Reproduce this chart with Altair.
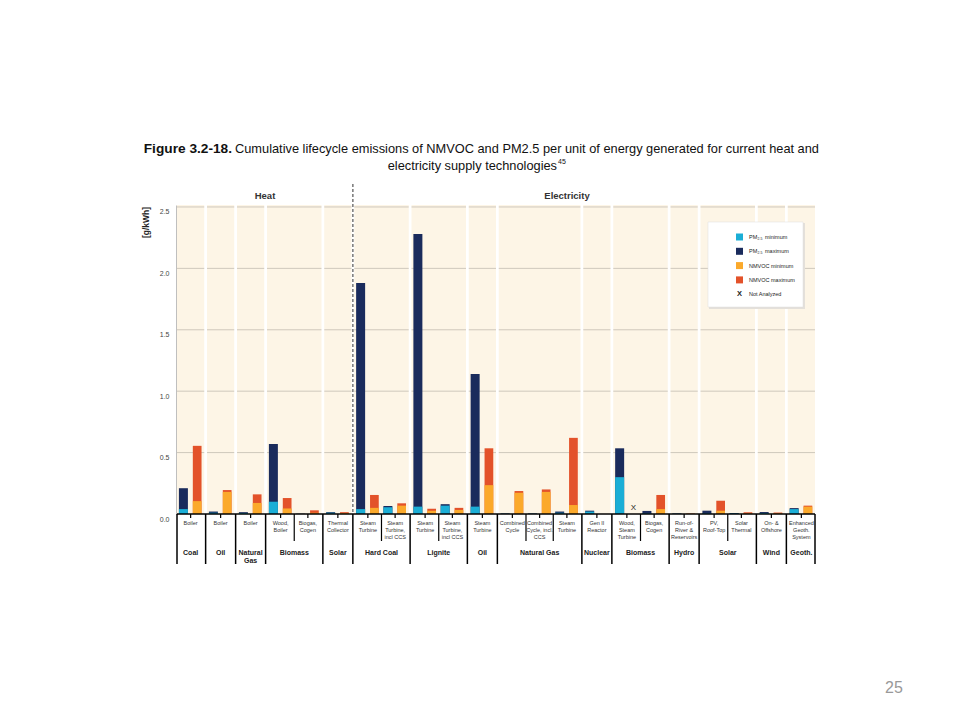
import altair as alt
import pandas as pd

# ---------------- data ----------------
groups = ["Coal", "Oil", "Natural\nGas", "Biomass", "Solar",
          "Hard Coal", "Lignite", "Oil", "Natural Gas", "Nuclear",
          "Biomass", "Hydro", "Solar", "Wind", "Geoth."]
sectors = ["Heat", "Electricity"]
tech_group = [0, 1, 2, 3, 3, 4, 5, 5, 6, 6, 7, 8, 8, 8, 9, 10, 10, 11, 12, 12, 13, 14]
tech_labels = ["Boiler", "Boiler", "Boiler", "Wood,\nBoiler", "Biogas,\nCogen", "Thermal\nCollector",
               "Steam\nTurbine", "Steam\nTurbine,\nincl CCS", "Steam\nTurbine", "Steam\nTurbine,\nincl CCS",
               "Steam\nTurbine", "Combined\nCycle", "Combined\nCycle, incl.\nCCS", "Steam\nTurbine",
               "Gen II\nReactor", "Wood,\nSteam\nTurbine", "Biogas,\nCogen", "Run-of-\nRiver &\nReservoirs",
               "PV,\nRoof-Top", "Solar\nThermal", "On- &\nOffshore", "Enhanced\nGeoth.\nSystem"]
pm_min = [0.04, 0.01, 0.008, 0.10, 0.0, 0.01, 0.04, 0.055, 0.06, 0.068, 0.06, 0.002, 0.002, 0.01,
          0.02, 0.30, 0.005, 0.002, 0.005, 0.005, 0.008, 0.04]
pm_max = [0.21, 0.02, 0.015, 0.57, 0.003, 0.015, 1.88, 0.065, 2.28, 0.08, 1.14, 0.004, 0.004, 0.02,
          0.027, 0.535, 0.025, 0.004, 0.027, 0.008, 0.016, 0.048]
nmvoc_min = [0.105, 0.18, 0.09, 0.045, 0.01, 0.008, 0.05, 0.068, 0.027, 0.033, 0.235, 0.173, 0.18, 0.073,
             0.0, None, 0.04, 0.002, 0.027, 0.005, 0.005, 0.06]
nmvoc_max = [0.555, 0.195, 0.16, 0.13, 0.03, 0.015, 0.155, 0.087, 0.043, 0.05, 0.535, 0.187, 0.2, 0.62,
             0.0, None, 0.155, 0.003, 0.108, 0.014, 0.012, 0.068]
series_keys = ["PM max", "PM min", "NMVOC max", "NMVOC min"]
series_colors = ["#1A2B5C", "#1BAED6", "#E3522A", "#FBA92B"]
legend_labels = ["minimum", "maximum", "NMVOC minimum", "NMVOC maximum", "Not Analyzed"]
y_ticks = [0.0, 0.5, 1.0, 1.5, 2.0, 2.5]

# ---------------- layout ----------------
PLOT_W, PLOT_H = 638, 309
GAP = 0.1
FONT = "Liberation Sans, Arial, sans-serif"
BG = "#FDF5E6"

starts = [i + GAP * g for i, g in enumerate(tech_group)]
XMAX = len(tech_group) + GAP * (len(groups) - 1)
one = pd.DataFrame({"a": [0]})

XS = alt.Scale(domain=[0, XMAX], nice=False, zero=False)
YS = alt.Scale(domain=[0, 2.516], nice=False, zero=True)
YAX = alt.Axis(values=y_ticks, format=".1f", title=None, grid=False, ticks=False,
               domain=True, domainColor="black", domainWidth=1.5,
               labelFont=FONT, labelFontSize=7, labelColor="#444",
               labelPadding=8, labelBaseline="top", labelOffset=1)


def X(f):
    return alt.X(f, scale=XS, axis=None)


def Y(f):
    return alt.Y(f, scale=YS, axis=YAX)


rows = []
for i, s in enumerate(starts):
    rows.append(dict(x=s + 0.07, x2=s + 0.40, v=pm_max[i], k="PM max", z=0))
    rows.append(dict(x=s + 0.07, x2=s + 0.40, v=pm_min[i], k="PM min", z=0))
    if nmvoc_max[i] is not None:
        rows.append(dict(x=s + 0.58, x2=s + 0.90, v=nmvoc_max[i], k="NMVOC max", z=0))
        rows.append(dict(x=s + 0.58, x2=s + 0.90, v=nmvoc_min[i], k="NMVOC min", z=0))
bars = pd.DataFrame(rows)
na = pd.DataFrame([dict(x=starts[i] + 0.74, v=0.0, t="X") for i in range(len(starts)) if nmvoc_max[i] is None])

color = alt.Color("k:N", scale=alt.Scale(domain=series_keys, range=series_colors), legend=None)

# group geometry
first = {}
last = {}
for i, g in enumerate(tech_group):
    first.setdefault(g, i)
    last[g] = i
gap_rows = []
group_bounds = [0.0]
for g in range(len(groups) - 1):
    a = starts[last[g]] + 1
    b = starts[first[g + 1]]
    gap_rows.append(dict(x=a, x2=b))
    group_bounds.append((a + b) / 2)
group_bounds.append(XMAX)
gaps = pd.DataFrame(gap_rows)
gb = pd.DataFrame({"x": group_bounds})
inner = pd.DataFrame({"x": [starts[i] for i in range(1, len(starts)) if tech_group[i] == tech_group[i - 1]]})
centers = pd.DataFrame({"x": [s + 0.5 for s in starts], "t": tech_labels})
gcent = pd.DataFrame({"x": [(starts[first[g]] + starts[last[g]] + 1) / 2 for g in range(len(groups))],
                      "t": groups})
sector_split = pd.DataFrame({"x": [group_bounds[5]]})
grid = pd.DataFrame({"g": y_ticks[1:]})

layers = []
# background
layers.append(alt.Chart(one).mark_rect(color=BG).encode(
    x=alt.value(0), x2=alt.value(PLOT_W), y=alt.value(0), y2=alt.value(PLOT_H)))
# gridlines
layers.append(alt.Chart(grid).mark_rule(color="#CFC8BC", strokeWidth=1).encode(
    y=Y("g:Q"), x=alt.value(0), x2=alt.value(PLOT_W)))
# white gaps between groups
layers.append(alt.Chart(gaps).mark_rect(color="white").encode(
    x=X("x:Q"), x2="x2:Q", y=alt.value(-3), y2=alt.value(PLOT_H)))
# dashed heat/electricity split
layers.append(alt.Chart(sector_split).mark_rule(color="#777", strokeWidth=1.5, strokeDash=[3, 2]).encode(
    x=X("x:Q"), y=alt.value(-21), y2=alt.value(PLOT_H)))
# bars: max first, then min on top
for keys in (["PM max", "NMVOC max"], ["PM min", "NMVOC min"]):
    layers.append(alt.Chart(bars[bars.k.isin(keys)]).mark_rect().encode(
        x=X("x:Q"), x2="x2:Q", y=Y("v:Q"), y2="z:Q", color=color))
# not analyzed marker
layers.append(alt.Chart(na).mark_text(font=FONT, fontSize=8, color="#222", baseline="bottom", dy=-2).encode(
    x=X("x:Q"), y=Y("v:Q"), text="t:N"))
# x axis line, ticks, separators
layers.append(alt.Chart(one).mark_rule(color="black", strokeWidth=1.5).encode(
    x=alt.value(0), x2=alt.value(PLOT_W), y=alt.value(PLOT_H)))
layers.append(alt.Chart(centers).mark_rule(color="black", strokeWidth=1.2).encode(
    x=X("x:Q"), y=alt.value(PLOT_H), y2=alt.value(PLOT_H + 4)))
layers.append(alt.Chart(gb).mark_rule(color="black", strokeWidth=1.5).encode(
    x=X("x:Q"), y=alt.value(PLOT_H), y2=alt.value(PLOT_H + 50)))
layers.append(alt.Chart(inner).mark_rule(color="black", strokeWidth=1.2).encode(
    x=X("x:Q"), y=alt.value(PLOT_H), y2=alt.value(PLOT_H + 27)))
# labels
layers.append(alt.Chart(centers).mark_text(font=FONT, fontSize=5.5, color="#333", baseline="top",
                                           lineBreak="\n", lineHeight=7).encode(
    x=X("x:Q"), y=alt.value(PLOT_H + 7), text="t:N"))
layers.append(alt.Chart(gcent).mark_text(font=FONT, fontSize=7, fontWeight="bold", color="#222",
                                         baseline="top", lineBreak="\n", lineHeight=8).encode(
    x=X("x:Q"), y=alt.value(PLOT_H + 35), text="t:N"))


def txt(text, x, y, size, weight="normal", align="center", baseline="middle", color="#222", angle=0):
    return alt.Chart(one).mark_text(text=text, x=x, y=y, fontSize=size, fontWeight=weight, align=align,
                                    baseline=baseline, color=color, font=FONT, angle=angle)


# sector headers
layers.append(txt(sectors[0], 88, -9, 9.5, "bold", color="#333"))
layers.append(txt(sectors[1], 390, -9, 9.5, "bold", color="#333"))
# y title
layers.append(txt("[g/kWh]", -31, 17.5, 8.5, "bold", angle=270))
# figure title
layers.append(txt("Figure 3.2-18.", 55, -56, 13.7, "bold", align="right", color="#111"))
layers.append(txt("Cumulative lifecycle emissions of NMVOC and PM2.5 per unit of energy generated for current heat and",
                  58, -56, 12.8, align="left", color="#111"))
layers.append(txt("electricity supply technologies", 380, -39, 12.8, align="right", color="#111"))
layers.append(txt("45", 381, -43, 7, align="left", color="#111"))
# page number
layers.append(txt("25", 717, 483, 16, color="#999"))

# legend
LX, LY = 531, 17
layers.append(alt.Chart(one).mark_rect(color="#E4E0DA").encode(
    x=alt.value(LX + 1), x2=alt.value(LX + 97), y=alt.value(LY + 1), y2=alt.value(LY + 87)))
layers.append(alt.Chart(one).mark_rect(color="white", stroke="#DDDDDD", strokeWidth=0.5).encode(
    x=alt.value(LX), x2=alt.value(LX + 95), y=alt.value(LY), y2=alt.value(LY + 85)))
sw_colors = [series_colors[1], series_colors[0], series_colors[3], series_colors[2]]
for j in range(4):
    yy = LY + 15 + j * 14.3
    layers.append(alt.Chart(one).mark_rect(color=sw_colors[j]).encode(
        x=alt.value(LX + 28), x2=alt.value(LX + 35), y=alt.value(yy - 3.5), y2=alt.value(yy + 3.5)))
    if j < 2:
        layers.append(txt("PM", LX + 41, yy, 5.5, align="left"))
        layers.append(txt("2.5", LX + 49.5, yy + 1.5, 3.5, align="left"))
        layers.append(txt(legend_labels[j], LX + 57, yy, 5.5, align="left"))
    else:
        layers.append(txt(legend_labels[j], LX + 41, yy, 5.5, align="left"))
yy = LY + 15 + 4 * 14.3
layers.append(txt("X", LX + 31.5, yy, 7.5, "bold"))
layers.append(txt(legend_labels[4], LX + 41, yy, 5.5, align="left"))

chart = alt.layer(*layers).properties(
    width=PLOT_W, height=PLOT_H, autosize="none",
    padding={"left": 169, "top": 197, "right": 137, "bottom": 198},
    background="white",
).configure_view(stroke=None)

chart.save("out.html", embed_options={"renderer": "svg", "actions": False})
